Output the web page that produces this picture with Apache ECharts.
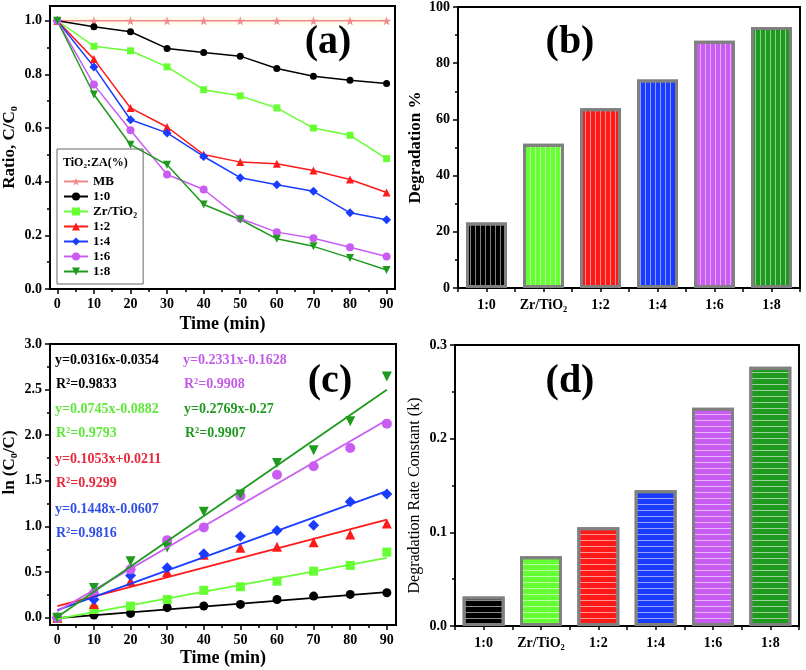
<!DOCTYPE html>
<html>
<head>
<meta charset="utf-8">
<script src="https://cdn.jsdelivr.net/npm/echarts@6/dist/echarts.min.js"></script>
<style>html,body{margin:0;padding:0;background:#fff}#chart{width:806px;height:670px}</style>
</head>
<body>
<div id="chart"></div>
<script>
// ---------- data ----------
const times = [0, 10, 20, 30, 40, 50, 60, 70, 80, 90];
const legendNames = ['MB', '1:0', 'Zr/TiO₂', '1:2', '1:4', '1:6', '1:8'];
const ratioMB = [1, 1, 1, 1, 1, 1, 1, 1, 1, 1];
const ratio10 = [1.0, 0.978, 0.959, 0.897, 0.882, 0.868, 0.822, 0.793, 0.778, 0.766];
const ratioZr = [1.0, 0.905, 0.888, 0.828, 0.743, 0.720, 0.675, 0.600, 0.573, 0.486];
const ratio12 = [1.0, 0.857, 0.675, 0.604, 0.501, 0.473, 0.467, 0.442, 0.408, 0.360];
const ratio14 = [1.0, 0.828, 0.631, 0.582, 0.494, 0.415, 0.389, 0.364, 0.284, 0.258];
const ratio16 = [1.0, 0.762, 0.592, 0.427, 0.371, 0.263, 0.212, 0.189, 0.156, 0.121];
const ratio18 = [1.0, 0.725, 0.538, 0.463, 0.315, 0.259, 0.187, 0.159, 0.116, 0.071];

const lnC10 = [0, 0.030, 0.047, 0.110, 0.128, 0.146, 0.200, 0.237, 0.255, 0.274];
const lnCZr = [0, 0.090, 0.127, 0.200, 0.300, 0.339, 0.400, 0.510, 0.573, 0.719];
const lnC12 = [0, 0.150, 0.400, 0.500, 0.690, 0.766, 0.777, 0.828, 0.912, 1.032];
const lnC14 = [0, 0.200, 0.463, 0.547, 0.700, 0.894, 0.956, 1.014, 1.270, 1.357];
const lnC16 = [0, 0.266, 0.530, 0.850, 0.990, 1.335, 1.566, 1.660, 1.860, 2.127];
const lnC18 = [0, 0.325, 0.620, 0.770, 1.160, 1.350, 1.697, 1.835, 2.153, 2.645];
const fitStartT = 0, fitEndT = 90;
const fitAtStart = [-0.004, -0.014, 0.126, 0.084, 0.070, 0.007];
const fitAtEnd = [0.281, 0.657, 1.074, 1.387, 2.168, 2.499];
const equations = ['y=0.0316x-0.0354', 'y=0.0745x-0.0882', 'y=0.1053x+0.0211', 'y=0.1448x-0.0607', 'y=0.2331x-0.1628', 'y=0.2769x-0.27'];
const r2Values = ['R²=0.9833', 'R²=0.9793', 'R²=0.9299', 'R²=0.9816', 'R²=0.9908', 'R²=0.9907'];

const barCategories = ['1:0', 'Zr/TiO₂', '1:2', '1:4', '1:6', '1:8'];
const degradation = [23.3, 51.3, 64.0, 74.2, 88.0, 92.9];
const rateConstant = [0.0316, 0.0745, 0.1053, 0.1448, 0.2331, 0.2769];

const timeTicks = [0, 10, 20, 30, 40, 50, 60, 70, 80, 90];
const timeMinor = [5, 15, 25, 35, 45, 55, 65, 75, 85];
const ratioTicks = [0, 0.2, 0.4, 0.6, 0.8, 1.0];
const ratioMinor = [0.1, 0.3, 0.5, 0.7, 0.9];
const lnTicks = [0, 0.5, 1.0, 1.5, 2.0, 2.5, 3.0];
const lnMinor = [0.25, 0.75, 1.25, 1.75, 2.25, 2.75];

// ---------- styles ----------
const FONT = '"Liberation Serif", "Times New Roman", serif';
const seriesColors = ['#000000', '#66FF33', '#FF1A1A', '#1A3CFF', '#C95CF2', '#1E9A1E'];
const textColors = ['#000000', '#5EE83A', '#E8283C', '#2F4FE8', '#C25CE8', '#229A22'];
const mbColor = '#F08A8A';
const STAR = 'path://M50,0 L61,35 L98,35 L68,57 L79,91 L50,70 L21,91 L32,57 L2,35 L39,35 Z';
const DTRI = 'path://M0,0 L10,0 L5,9 Z';
const symbols = ['circle', 'rect', 'triangle', 'diamond', 'circle', DTRI];
const symSizesA = [7, 7, 8, 9, 8, 8];
const symSizesC = [9, 9, 10, 11, 10, 10];

const labelStyle = {color: '#000', fontFamily: FONT, fontWeight: 'bold', fontSize: 14};
const nameStyle = {color: '#000', fontFamily: FONT, fontWeight: 'bold', fontSize: 18};
const axLine = {show: true, onZero: false, lineStyle: {color: '#000', width: 2}};
const tickStyle = {color: '#000', width: 1.5};

function valAxis(grid, pos, min, max, ticks, fmt, extra) {
  return Object.assign({
    type: 'value', gridIndex: grid, position: pos, min: min, max: max,
    axisLine: axLine,
    axisTick: {show: true, inside: false, length: 5, lineStyle: tickStyle, customValues: ticks},
    axisLabel: Object.assign({customValues: ticks, margin: 8, formatter: fmt}, labelStyle),
    splitLine: {show: false}
  }, extra || {});
}
function minorAxis(grid, pos, min, max, ticks) {
  return {
    type: 'value', gridIndex: grid, position: pos, min: min, max: max,
    axisLine: {show: true, onZero: false, lineStyle: {color: '#000', width: 2}},
    axisLabel: {show: false, customValues: ticks},
    axisTick: {show: true, inside: false, length: 3, lineStyle: tickStyle, customValues: ticks},
    splitLine: {show: false}
  };
}
function catAxis(grid, align, showLabel) {
  return {
    type: 'category', gridIndex: grid, position: 'bottom', data: barCategories,
    axisLine: axLine,
    axisTick: {show: true, alignWithLabel: align, inside: false, length: 4, lineStyle: tickStyle},
    axisLabel: Object.assign({show: showLabel, margin: 10, interval: 0}, labelStyle),
    splitLine: {show: false}
  };
}

const gridBase = {show: true, borderColor: '#000', borderWidth: 2, containLabel: false};

const xAxis = [
  valAxis(0, 'bottom', -2, 92.3, timeTicks, v => String(v), {name: 'Time (min)', nameLocation: 'middle', nameGap: 26, nameTextStyle: nameStyle}),
  minorAxis(0, 'bottom', -2, 92.3, timeMinor),
  catAxis(1, false, true),
  catAxis(1, true, false),
  valAxis(2, 'bottom', -2, 92.5, timeTicks, v => String(v), {name: 'Time (min)', nameLocation: 'middle', nameGap: 24, nameTextStyle: nameStyle}),
  minorAxis(2, 'bottom', -2, 92.5, timeMinor),
  catAxis(3, false, true),
  catAxis(3, true, false)
];
const yAxis = [
  valAxis(0, 'left', 0, 1.055, ratioTicks, v => v.toFixed(1), {name: 'Ratio, C/C₀', nameLocation: 'middle', nameGap: 32, nameTextStyle: Object.assign({}, nameStyle, {fontSize: 17})}),
  minorAxis(0, 'left', 0, 1.055, ratioMinor),
  {type: 'value', gridIndex: 1, position: 'left', min: 0, max: 100, interval: 20,
   axisLine: axLine, axisTick: {show: true, inside: false, length: 5, lineStyle: tickStyle},
   minorTick: {show: true, splitNumber: 2, length: 3, lineStyle: tickStyle},
   axisLabel: Object.assign({margin: 8}, labelStyle), splitLine: {show: false}, minorSplitLine: {show: false},
   name: 'Degradation %', nameLocation: 'middle', nameGap: 34, nameTextStyle: Object.assign({}, nameStyle, {fontSize: 17})},
  valAxis(2, 'left', -0.08, 3.0, lnTicks, v => v.toFixed(1), {name: 'ln (C₀/C)', nameLocation: 'middle', nameGap: 32, nameTextStyle: Object.assign({}, nameStyle, {fontSize: 17, padding: [0, 0, 0, 44]})}),
  minorAxis(2, 'left', -0.08, 3.0, lnMinor),
  {type: 'value', gridIndex: 3, position: 'left', min: 0, max: 0.3, interval: 0.1,
   axisLine: axLine, axisTick: {show: true, inside: false, length: 5, lineStyle: tickStyle},
   minorTick: {show: true, splitNumber: 2, length: 3, lineStyle: tickStyle},
   axisLabel: Object.assign({margin: 8, formatter: v => v.toFixed(1)}, labelStyle), splitLine: {show: false}, minorSplitLine: {show: false},
   name: 'Degradation Rate Constant (k)', nameLocation: 'middle', nameGap: 32,
   nameTextStyle: Object.assign({}, nameStyle, {fontSize: 16, fontWeight: 'normal', padding: [0, 20, 0, 0]})}
];

const series = [];
// panel (a)
series.push({
  name: 'MB', type: 'line', xAxisIndex: 0, yAxisIndex: 0,
  data: times.map((t, i) => [t, ratioMB[i]]),
  symbol: STAR, symbolSize: 9, itemStyle: {color: mbColor},
  lineStyle: {color: mbColor, width: 1.5, shadowColor: 'rgba(255,225,130,0.9)', shadowBlur: 5}
});
const ratioSets = [ratio10, ratioZr, ratio12, ratio14, ratio16, ratio18];
ratioSets.forEach((arr, k) => {
  series.push({
    name: legendNames[k + 1], type: 'line', xAxisIndex: 0, yAxisIndex: 0,
    data: times.map((t, i) => [t, arr[i]]),
    symbol: symbols[k], symbolSize: symSizesA[k],
    itemStyle: {color: seriesColors[k]}, lineStyle: {color: seriesColors[k], width: 1.5}
  });
});
// panel (b)
const decalV = {symbol: 'rect', symbolSize: 1, color: 'rgba(255,255,255,0.5)', dashArrayX: [1, 4], dashArrayY: [4, 0]};
const decalH = {symbol: 'rect', symbolSize: 1, color: 'rgba(255,255,255,0.55)', dashArrayX: [4, 0], dashArrayY: [1, 4.5]};
series.push({
  name: 'bars-b', type: 'bar', xAxisIndex: 2, yAxisIndex: 2, barWidth: 41,
  data: degradation.map((v, i) => ({value: v, itemStyle: {color: seriesColors[i], decal: decalV}})),
  itemStyle: {borderColor: '#808080', borderWidth: 3}
});
// panel (c)
const lnSets = [lnC10, lnCZr, lnC12, lnC14, lnC16, lnC18];
lnSets.forEach((arr, k) => {
  series.push({
    name: 'fit-' + k, type: 'line', xAxisIndex: 4, yAxisIndex: 3,
    data: [[fitStartT, fitAtStart[k]], [fitEndT, fitAtEnd[k]]],
    symbol: 'none', lineStyle: {color: seriesColors[k], width: 1.8}
  });
  series.push({
    name: 'pts-' + k, type: 'scatter', xAxisIndex: 4, yAxisIndex: 3,
    data: times.map((t, i) => [t, arr[i]]),
    symbol: symbols[k], symbolSize: symSizesC[k], itemStyle: {color: seriesColors[k], opacity: 1}
  });
});
// panel (d)
series.push({
  name: 'bars-d', type: 'bar', xAxisIndex: 6, yAxisIndex: 5, barWidth: 42,
  data: rateConstant.map((v, i) => ({value: v, itemStyle: {color: seriesColors[i], decal: decalH}})),
  itemStyle: {borderColor: '#808080', borderWidth: 3}
});

function txt(x, y, text, color, size, align) {
  return {type: 'text', x: x, y: y, z: 100,
    style: {text: text, fill: color, font: 'bold ' + size + 'px ' + FONT, textAlign: align || 'left', textVerticalAlign: 'middle'}};
}
const graphics = [
  txt(328, 43, '(a)', '#000', 40, 'center'),
  txt(570, 43, '(b)', '#000', 40, 'center'),
  txt(330, 382, '(c)', '#000', 40, 'center'),
  txt(570, 382, '(d)', '#000', 40, 'center'),
  txt(63, 163, 'TiO₂:ZA(%)', '#000', 12, 'left')
];
const eqPos = [[55, 360], [55, 409], [55, 459], [55, 509], [183, 360], [184, 409]];
equations.forEach((e, k) => {
  graphics.push(txt(eqPos[k][0], eqPos[k][1], e, textColors[k], 14));
  graphics.push(txt(eqPos[k][0] + 1, eqPos[k][1] + 24, r2Values[k], textColors[k], 14));
});

const option = {
  backgroundColor: '#fff',
  animation: false,
  grid: [
    Object.assign({left: 50, top: 6, width: 345, height: 283}, gridBase),
    Object.assign({left: 458, top: 7, width: 342, height: 281}, gridBase),
    Object.assign({left: 49, top: 344, width: 347, height: 281}, gridBase),
    Object.assign({left: 455, top: 345, width: 344, height: 281}, gridBase)
  ],
  legend: {
    data: legendNames, orient: 'vertical', left: 57, top: 149,
    padding: [26, 6, 6, 6], itemGap: 2, itemWidth: 24, itemHeight: 10,
    borderColor: '#666', borderWidth: 1, selectedMode: false,
    textStyle: {color: '#000', fontFamily: FONT, fontWeight: 'bold', fontSize: 13, lineHeight: 12}
  },
  xAxis: xAxis, yAxis: yAxis, series: series, graphic: graphics
};
const chart = echarts.init(document.getElementById('chart'), null, {renderer: 'canvas'});
chart.setOption(option);
</script>
</body>
</html>
